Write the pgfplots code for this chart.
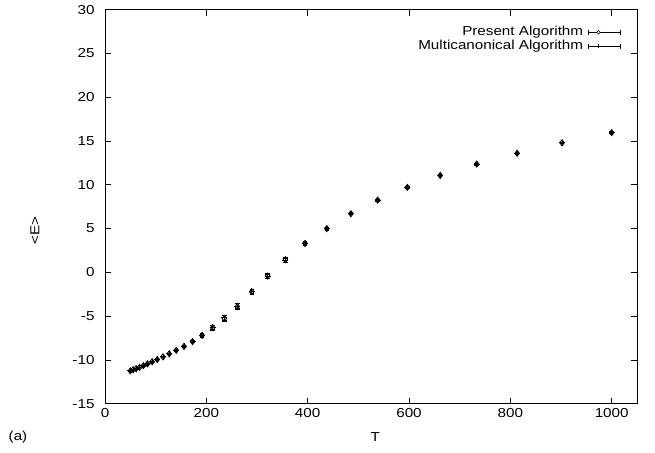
\documentclass[border=0pt]{standalone}
\usepackage{fontspec}
\setmainfont[FakeStretch=1.17]{Liberation Sans}
\usepackage{pgfplots}
\usepackage{pgfplotstable}
\pgfplotsset{compat=1.18}
\usetikzlibrary{calc}

% mean energy vs temperature, present algorithm
\pgfplotstableread{
T      E       err
1000.0  15.95  0.10
901.9   14.80  0.10
813.4   13.60  0.10
733.6   12.37  0.12
661.6   11.07  0.15
596.7    9.70  0.12
538.2    8.25  0.12
485.4    6.70  0.12
437.7    5.00  0.15
394.8    3.30  0.20
356.1    1.45  0.30
321.1   -0.42  0.25
289.6   -2.20  0.30
261.2   -3.90  0.35
235.6   -5.25  0.35
212.5   -6.32  0.30
191.6   -7.20  0.20
172.8   -7.90  0.15
155.9   -8.45  0.12
140.6   -8.90  0.10
126.8   -9.30  0.10
114.4   -9.65  0.08
103.1   -9.95  0.08
93.0   -10.20  0.06
83.9   -10.45  0.06
75.7   -10.65  0.06
68.2   -10.85  0.05
61.5   -11.00  0.05
55.5   -11.12  0.05
50.0   -11.25  0.05
}\present

% multicanonical algorithm
\pgfplotstableread{
T      E       err
1000.0  15.93  0.08
901.9   14.79  0.08
813.4   13.61  0.08
733.6   12.36  0.10
661.6   11.06  0.12
596.7    9.71  0.10
538.2    8.24  0.10
485.4    6.71  0.10
437.7    4.98  0.12
394.8    3.32  0.15
356.1    1.40  0.25
321.1   -0.45  0.20
289.6   -2.15  0.25
261.2   -3.85  0.30
235.6   -5.20  0.30
212.5   -6.30  0.25
191.6   -7.18  0.15
172.8   -7.90  0.12
155.9   -8.44  0.10
140.6   -8.91  0.08
126.8   -9.30  0.08
114.4   -9.64  0.06
103.1   -9.96  0.06
93.0   -10.21  0.05
83.9   -10.44  0.05
75.7   -10.66  0.05
68.2   -10.84  0.04
61.5   -11.01  0.04
55.5   -11.13  0.04
50.0   -11.24  0.04
}\multican

\begin{document}
\begin{tikzpicture}[font=\fontsize{13}{15}\selectfont]
\begin{axis}[
  name=ax,
  scale only axis,
  width=532pt,
  height=394pt,
  xmin=0, xmax=1050,
  ymin=-15, ymax=30,
  xtick={0,200,...,1000},
  ytick={-15,-10,...,30},
  tick align=inside,
  major tick length=6pt,
  minor tick num=0,
  axis line style={line width=0.8pt},
  every tick/.style={line width=0.8pt, black},
  /pgf/number format/assume math mode=true,
  /pgf/number format/1000 sep={},
  yticklabel style={xshift=-7pt},
  xticklabel style={yshift=-1pt},
  xlabel={T},
  ylabel={<E>},
  xlabel style={at={(axis description cs:0.508,-0.084)}, anchor=center},
  ylabel style={at={(axis description cs:-0.1316,0.44)}, anchor=center},
  legend plot pos=right,
  legend cell align=right,
  legend style={draw=none, fill=none, at={(axis description cs:0.970,0.961)},
    anchor=north east, inner sep=0pt, row sep=0pt, column sep=4pt,
    nodes={inner xsep=1pt, inner ysep=0pt, text height=10pt, text depth=4pt}},
  clip=false,
]
\addplot+[only marks, black, mark=diamond, mark size=3pt, line width=0.9pt,
  error bars/.cd, y dir=both, y explicit,
  error bar style={line width=0.8pt, black},
  error mark options={rotate=90, mark size=2.2pt, line width=0.8pt, black},
  /pgfplots/legend image code/.code={
    \draw[black, line width=0.7pt] (0pt,0pt) -- (32pt,0pt);
    \draw[black, line width=0.7pt] (0pt,-2.5pt) -- (0pt,2.5pt);
    \draw[black, line width=0.7pt] (32pt,-2.5pt) -- (32pt,2.5pt);
    \draw[black, line width=0.6pt, fill=white] (10pt,0pt) circle (1.8pt);
  }]
  table[x=T, y=E, y error=err] {\present};
\addlegendentry{Present Algorithm}
\addplot+[only marks, black, mark=+, mark size=3pt, line width=0.9pt,
  error bars/.cd, y dir=both, y explicit,
  error bar style={line width=0.8pt, black},
  error mark options={rotate=90, mark size=2.2pt, line width=0.8pt, black},
  /pgfplots/legend image code/.code={
    \draw[black, line width=0.7pt] (0pt,0pt) -- (32pt,0pt);
    \draw[black, line width=0.7pt] (0pt,-2.5pt) -- (0pt,2.5pt);
    \draw[black, line width=0.7pt] (32pt,-2.5pt) -- (32pt,2.5pt);
    \draw[black, line width=0.7pt] (10pt,-2pt) -- (10pt,2pt);
  }]
  table[x=T, y=E, y error=err] {\multican};
\addlegendentry{Multicanonical Algorithm}
\node at (axis description cs:-0.1635,-0.084) {(a)};
\end{axis}
\pgfresetboundingbox
\path ($(ax.south west)+(-105pt,-49pt)$) rectangle ($(ax.north east)+(18pt,9.7pt)$);
\end{tikzpicture}
\end{document}
